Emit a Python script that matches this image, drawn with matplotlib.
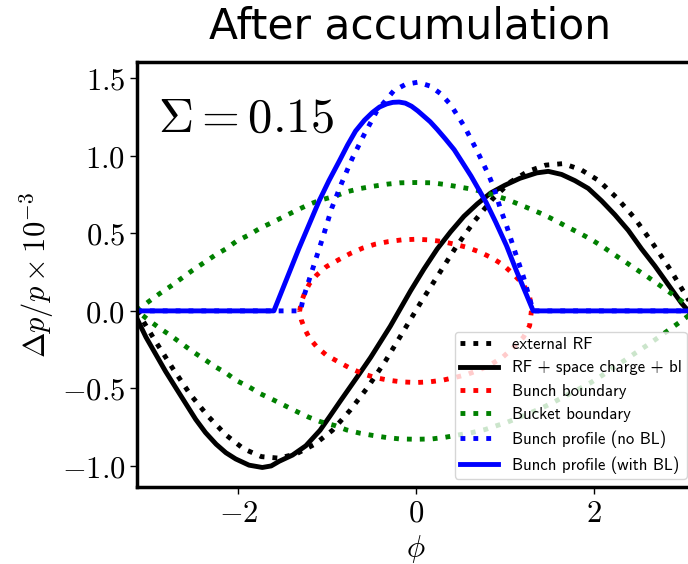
import numpy as np
import matplotlib
matplotlib.use("Agg")
import matplotlib.pyplot as plt
from matplotlib.ticker import FuncFormatter

plt.rcParams["mathtext.fontset"] = "cm"

# external RF (black dotted)
rf_phi = [-3.1416, -2.94, -2.74, -2.54, -2.34, -2.14, -1.94, -1.74, -1.54, -1.34,
          -1.14, -0.94, -0.74, -0.54, -0.34, -0.14, 0.06, 0.26, 0.46, 0.66, 0.86,
          1.06, 1.26, 1.46, 1.66, 1.86, 2.06, 2.26, 2.46, 2.66, 2.86, 3.06, 3.1416]
rf_dp = [0.0, -0.19, -0.37, -0.54, -0.68, -0.80, -0.89, -0.94, -0.95, -0.92,
         -0.86, -0.77, -0.64, -0.49, -0.32, -0.13, 0.06, 0.24, 0.42, 0.58, 0.72,
         0.83, 0.90, 0.94, 0.95, 0.91, 0.84, 0.73, 0.60, 0.44, 0.27, 0.08, 0.0]

# RF + space charge + bl (black solid)
tot_phi = [-3.1416, -3.04, -2.93, -2.82, -2.70, -2.59, -2.48, -2.37, -2.25, -2.14,
           -2.03, -1.88, -1.73, -1.63, -1.54, -1.39, -1.24, -1.08, -0.97, -0.85,
           -0.74, -0.63, -0.51, -0.40, -0.29, -0.18, -0.06, 0.09, 0.24, 0.39, 0.54,
           0.69, 0.84, 1.00, 1.17, 1.36, 1.49, 1.64, 1.79, 1.94, 2.09, 2.24, 2.39,
           2.54, 2.69, 2.84, 2.99, 3.1416]
tot_dp = [-0.05, -0.17, -0.28, -0.39, -0.50, -0.60, -0.70, -0.785, -0.86, -0.915,
          -0.955, -0.995, -1.01, -1.00, -0.97, -0.93, -0.87, -0.77, -0.68, -0.58,
          -0.49, -0.40, -0.30, -0.20, -0.10, 0.01, 0.13, 0.27, 0.40, 0.51, 0.61,
          0.69, 0.76, 0.81, 0.855, 0.89, 0.90, 0.88, 0.84, 0.79, 0.71, 0.62, 0.52,
          0.40, 0.29, 0.17, 0.05, -0.05]

# bunch boundary (red dotted)
bunch_phi = [-1.31, -1.29, -1.25, -1.20, -1.12, -1.01, -0.87, -0.74, -0.60, -0.46,
             -0.31, -0.16, 0.0, 0.15, 0.30, 0.45, 0.58, 0.73, 0.86, 0.98, 1.10,
             1.21, 1.28, 1.30]
bunch_up = [0.0, 0.06, 0.12, 0.175, 0.23, 0.285, 0.33, 0.37, 0.405, 0.43,
            0.447, 0.458, 0.462, 0.458, 0.447, 0.428, 0.409, 0.377, 0.34, 0.297,
            0.235, 0.17, 0.095, 0.0]
bunch_low = [0.0, -0.06, -0.12, -0.175, -0.23, -0.285, -0.33, -0.37, -0.405, -0.43,
             -0.447, -0.458, -0.462, -0.458, -0.447, -0.428, -0.409, -0.377, -0.34,
             -0.297, -0.235, -0.17, -0.095, 0.0]

# bucket boundary (green dotted)
bucket_phi = [-3.1416, -3.01, -2.89, -2.76, -2.64, -2.52, -2.39, -2.26, -2.14, -2.02,
              -1.88, -1.75, -1.62, -1.48, -1.34, -1.21, -1.08, -0.91, -0.78, -0.63,
              -0.48, -0.33, -0.18, 0.0, 0.18, 0.33, 0.48, 0.63, 0.78, 0.91, 1.02,
              1.15, 1.29, 1.43, 1.56, 1.70, 1.83, 1.97, 2.10, 2.22, 2.35, 2.47,
              2.60, 2.72, 2.84, 2.96, 3.1416]
bucket_up = [0.0, 0.06, 0.11, 0.16, 0.21, 0.26, 0.31, 0.36, 0.40, 0.45,
             0.49, 0.535, 0.57, 0.61, 0.65, 0.685, 0.714, 0.74, 0.768, 0.789,
             0.804, 0.817, 0.826, 0.828, 0.826, 0.815, 0.80, 0.785, 0.765, 0.74, 0.72,
             0.69, 0.657, 0.623, 0.586, 0.543, 0.505, 0.462, 0.415, 0.368, 0.319, 0.272,
             0.223, 0.175, 0.126, 0.077, 0.0]
bucket_low = [-v for v in bucket_up]

# bunch profile without beam loading (blue dotted)
prof_phi = [-3.1416, -1.30, -1.27, -1.22, -1.13, -1.04, -0.95, -0.84, -0.72, -0.59,
            -0.44, -0.25, -0.12, 0.02, 0.16, 0.28, 0.39, 0.55, 0.69, 0.82, 0.88,
            0.95, 1.02, 1.11, 1.21, 1.32, 3.1416]
prof_dp = [0.0, 0.0, 0.08, 0.17, 0.33, 0.49, 0.66, 0.82, 0.98, 1.13,
           1.29, 1.42, 1.46, 1.475, 1.45, 1.40, 1.33, 1.185, 1.03, 0.875, 0.79,
           0.66, 0.55, 0.39, 0.22, 0.0, 0.0]

# bunch profile with beam loading (blue solid)
profbl_phi = [-3.1416, -1.60, -1.32, -1.09, -0.98, -0.86, -0.77, -0.68, -0.58, -0.49,
              -0.41, -0.33, -0.26, -0.19, -0.12, -0.05, 0.02, 0.08, 0.16, 0.24,
              0.33, 0.43, 0.52, 0.62, 0.70, 0.79, 0.90, 1.02, 1.13, 1.24, 1.32, 3.1416]
profbl_dp = [0.0, 0.0, 0.40, 0.71, 0.84, 0.97, 1.07, 1.16, 1.23, 1.28,
             1.315, 1.335, 1.345, 1.347, 1.34, 1.32, 1.29, 1.26, 1.22, 1.17,
             1.11, 1.04, 0.96, 0.87, 0.79, 0.70, 0.57, 0.42, 0.26, 0.11, 0.0, 0.0]

fig = plt.figure(figsize=(6.88, 5.64), dpi=100)
ax = fig.add_axes([0.1991, 0.1365, 0.811, 0.7535])

lw = 3.5
ax.plot(rf_phi, rf_dp, ":", color="k", lw=lw, label="external RF")
ax.plot(tot_phi, tot_dp, "-", color="k", lw=lw, label="RF + space charge + bl")
ax.plot(bunch_phi + bunch_phi[::-1], bunch_up + bunch_low[::-1], ":", color="r",
        lw=lw, label="Bunch boundary")
ax.plot(bucket_phi + bucket_phi[::-1], bucket_up + bucket_low[::-1], ":", color="g",
        lw=lw, label="Bucket boundary")
ax.plot(prof_phi, prof_dp, ":", color="b", lw=lw, label="Bunch profile (no BL)")
ax.plot(profbl_phi, profbl_dp, "-", color="b", lw=lw, label="Bunch profile (with BL)")

ax.set_xlim(-np.pi, np.pi)
ax.set_ylim(-1.136, 1.605)
ax.set_xticks([-2, 0, 2])
ax.set_yticks([-1.0, -0.5, 0.0, 0.5, 1.0, 1.5])
ax.xaxis.set_major_formatter(FuncFormatter(lambda v, p: r"$%d$" % v))
ax.yaxis.set_major_formatter(FuncFormatter(lambda v, p: r"$%.1f$" % v))
ax.tick_params(labelsize=22, length=5, width=1)
for s in ax.spines.values():
    s.set_linewidth(2.5)

ax.set_xlabel(r"$\phi$", fontsize=22)
ax.set_ylabel(r"$\Delta p/p \times 10^{-3}$", fontsize=22)

ax.text(0.037, 0.836, r"$\Sigma = 0.15$", transform=ax.transAxes, fontsize=35,
        va="baseline")

fig.text(410 / 688, 1 - 38.5 / 564, "After accumulation", ha="center",
         va="baseline", fontsize=30.5, family="DejaVu Sans")

ax.legend(loc="lower right", prop={"family": "cmss10", "size": 12},
          handlelength=2.3, borderpad=0.3)

fig.savefig("out.png", dpi=100)
